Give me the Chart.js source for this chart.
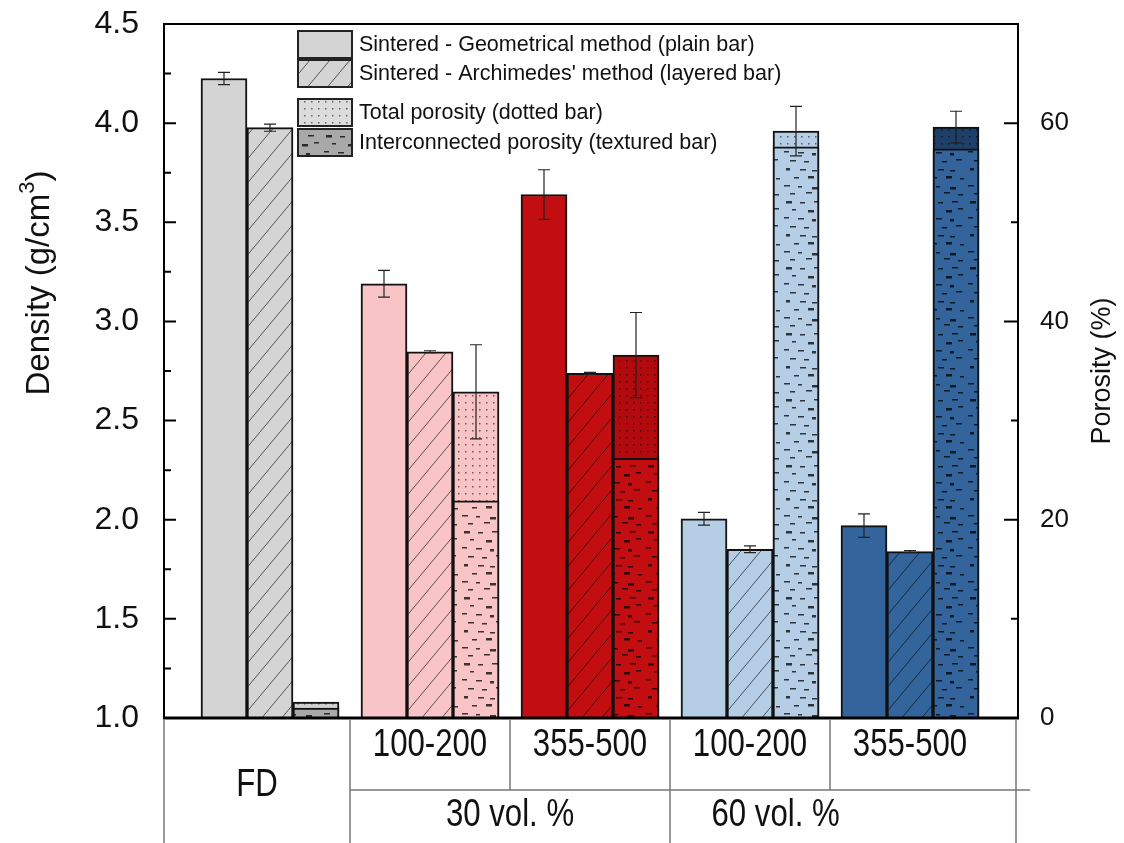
<!DOCTYPE html>
<html>
<head>
<meta charset="utf-8">
<script src="https://cdn.jsdelivr.net/npm/chart.js@4.4.0/dist/chart.umd.min.js"></script>
<style>
  html, body { margin: 0; padding: 0; background: #fff; }
  #wrap { width: 1124px; height: 843px; }
</style>
</head>
<body>
<div id="wrap"><canvas id="c" width="1124" height="843"></canvas></div>
<script>
// groups along the x axis (FD, then 30 vol.% and 60 vol.% powders)
const groups = ['FD', '100-200', '355-500', '100-200', '355-500'];
const groupPos = [1, 2, 3, 4, 5];
const volLabels = ['30 vol. %', '60 vol. %'];
const volPos = [2.5, 4.16];

// density (g/cm3), left axis
const geoDensity = [4.225, 3.19, 3.64, 2.005, 1.97];
const geoErr = [0.031, 0.067, 0.125, 0.032, 0.059];
const archDensity = [3.977, 2.847, 2.738, 1.851, 1.839];
const archErr = [0.018, 0.005, 0.005, 0.017, 0.005];

// porosity (%), right axis
const totalPorosity = [1.6, 32.9, 36.6, 59.2, 59.6];
const totalErr = [0, 4.75, 4.3, 2.5, 1.6];
const interPorosity = [1.0, 21.9, 26.2, 57.6, 57.4];

const baseColors = ['#d4d4d4', '#f8c4c5', '#c20e10', '#b5cde5', '#33649b'];
const totalColors = ['#d0d0d0', '#f8c4c5', '#b30b0d', '#b5cde5', '#1e3f68'];
const interColors = ['#a9a9a9', '#f8c4c5', '#c20e10', '#b5cde5', '#33649b'];

function tile(w, h, bg, draw) {
    const c = document.createElement('canvas');
    c.width = w; c.height = h;
    const g = c.getContext('2d');
    g.fillStyle = bg;
    g.fillRect(0, 0, w, h);
    draw(g);
    return g.createPattern(c, 'repeat');
}
function hatch(bg) {
    return tile(20, 24, bg, g => {
        g.strokeStyle = 'rgba(0,0,0,0.6)';
        g.lineWidth = 1;
        g.beginPath();
        g.moveTo(-2, 26.4); g.lineTo(22, -2.4);
        g.stroke();
    });
}
function dots(bg) {
    return tile(7, 7, bg, g => {
        g.fillStyle = 'rgba(0,0,0,0.55)';
        g.fillRect(3, 3, 1.5, 1.5);
    });
}
// fixed dash layout for the "textured" bars
const dashSpots = [[4,3,6],[18,4,5],[32,3,6],[10,11,4],[26,12,6],[38,10,5],[2,19,5],[16,20,6],[30,21,4],
    [8,28,6],[22,29,5],[36,27,6],[4,36,4],[18,37,6],[30,38,5],[12,45,5],[26,44,6],[40,46,4],
    [2,53,6],[16,54,4],[30,55,6],[8,61,5],[24,60,6],[38,62,5]];
function dashes(bg) {
    return tile(46, 66, bg, g => {
        g.fillStyle = 'rgba(0,0,0,0.75)';
        dashSpots.forEach((d, i) => g.fillRect(d[0], d[1], d[2], i % 4 === 0 ? 2.5 : 1.5));
    });
}

const pts = vals => groupPos.map((x, i) => ({ x: x, y: vals[i] }));

const framePlugin = {
    id: 'frame',
    afterDatasetsDraw(chart) {
        const ctx = chart.ctx;
        ctx.save();
        ctx.strokeStyle = '#222';
        ctx.lineWidth = 1.2;
        chart.data.datasets.forEach((ds, di) => {
            if (!ds.err) return;
            const meta = chart.getDatasetMeta(di);
            const sc = chart.scales[ds.yAxisID];
            meta.data.forEach((el, i) => {
                const e = ds.err[i];
                if (!e) return;
                const v = ds.data[i].y;
                const yt = sc.getPixelForValue(v + e), yb = sc.getPixelForValue(v - e);
                ctx.beginPath();
                ctx.moveTo(el.x, yt); ctx.lineTo(el.x, yb);
                ctx.moveTo(el.x - 6, yt); ctx.lineTo(el.x + 6, yt);
                ctx.moveTo(el.x - 6, yb); ctx.lineTo(el.x + 6, yb);
                ctx.stroke();
            });
        });
        ctx.restore();
    },
    afterDraw(chart) {
        const ctx = chart.ctx;
        const a = chart.chartArea;
        const xs = chart.scales.x, yl = chart.scales.y, yr = chart.scales.yP;
        ctx.save();

        // plot frame
        ctx.strokeStyle = '#000';
        ctx.lineWidth = 2;
        ctx.strokeRect(a.left, a.top, a.right - a.left, a.bottom - a.top);
        ctx.lineWidth = 3;
        ctx.beginPath(); ctx.moveTo(a.left - 1, a.bottom); ctx.lineTo(a.right + 1, a.bottom); ctx.stroke();

        // inward ticks
        ctx.lineWidth = 2;
        ctx.beginPath();
        yl.ticks.forEach(t => {
            const y = yl.getPixelForValue(t.value);
            ctx.moveTo(a.left, y); ctx.lineTo(a.left + 12, y);
            if (t.value + 0.25 < yl.max) {
                const ym = yl.getPixelForValue(t.value + 0.25);
                ctx.moveTo(a.left, ym); ctx.lineTo(a.left + 7, ym);
            }
        });
        yr.ticks.forEach(t => {
            const y = yr.getPixelForValue(t.value);
            ctx.moveTo(a.right, y); ctx.lineTo(a.right - 14, y);
            if (t.value + 10 < yr.max) {
                const ym = yr.getPixelForValue(t.value + 10);
                ctx.moveTo(a.right, ym); ctx.lineTo(a.right - 7, ym);
            }
        });
        ctx.stroke();

        // axis titles
        ctx.fillStyle = '#111';
        ctx.textBaseline = 'middle';
        ctx.save();
        ctx.translate(40, a.top + 259);
        ctx.rotate(-Math.PI / 2);
        const t1 = 'Density (g/cm', t3 = ')';
        ctx.font = '22px "Liberation Sans", Arial, sans-serif';
        const wSup = ctx.measureText('3').width;
        ctx.font = '33px "Liberation Sans", Arial, sans-serif';
        const w1 = ctx.measureText(t1).width, w3 = ctx.measureText(t3).width;
        let x0 = -(w1 + wSup + w3) / 2;
        ctx.textAlign = 'left';
        ctx.fillText(t1, x0, 0);
        ctx.font = '22px "Liberation Sans", Arial, sans-serif';
        ctx.fillText('3', x0 + w1, -12);
        ctx.font = '33px "Liberation Sans", Arial, sans-serif';
        ctx.fillText(t3, x0 + w1 + wSup, 0);
        ctx.restore();

        ctx.save();
        ctx.translate(1103, (a.top + a.bottom) / 2);
        ctx.rotate(-Math.PI / 2);
        ctx.font = '27px "Liberation Sans", Arial, sans-serif';
        ctx.textAlign = 'center';
        ctx.fillText('Porosity (%)', 0, 0);
        ctx.restore();

        // category table under the axis
        const H = chart.height;
        const rowLine = a.bottom + 72;
        ctx.strokeStyle = '#777';
        ctx.lineWidth = 1.5;
        ctx.beginPath();
        const vline = (x, y2) => { ctx.moveTo(x, a.bottom + 1); ctx.lineTo(x, y2); };
        vline(a.left, H);
        vline(xs.getPixelForValue(1.5), H);
        vline(xs.getPixelForValue(2.5), rowLine);
        vline(xs.getPixelForValue(3.5), H);
        vline(xs.getPixelForValue(4.5), rowLine);
        vline(a.right - 2, H);
        ctx.moveTo(xs.getPixelForValue(1.5), rowLine); ctx.lineTo(a.right + 12, rowLine);
        ctx.stroke();

        ctx.fillStyle = '#111';
        ctx.textAlign = 'center';
        ctx.textBaseline = 'middle';
        ctx.font = '38px "Liberation Sans", Arial, sans-serif';
        const narrow = (txt, x, y) => {
            ctx.save(); ctx.translate(x, y); ctx.scale(0.82, 1); ctx.fillText(txt, 0, 0); ctx.restore();
        };
        groups.forEach((g, i) => {
            if (i === 0) narrow(g, (a.left + xs.getPixelForValue(1.5)) / 2, a.bottom + 68);
            else narrow(g, xs.getPixelForValue(groupPos[i]), a.bottom + 28);
        });
        volLabels.forEach((v, i) => narrow(v, xs.getPixelForValue(volPos[i]), a.bottom + 98));

        // legend inside the plot
        const lx = a.left + 134;
        const rows = [[7, '#d4d4d4'], [36, hatch('#d4d4d4')], [75, dots('#dcdcdc')], [105, dashes('#a9a9a9')]];
        const names = [chart.data.datasets[0].label, chart.data.datasets[1].label,
            chart.data.datasets[3].label, chart.data.datasets[2].label];
        ctx.font = '21.5px "Liberation Sans", Arial, sans-serif';
        ctx.textAlign = 'left';
        rows.forEach((r, i) => {
            const y = a.top + r[0];
            ctx.fillStyle = r[1];
            ctx.fillRect(lx, y, 54, 27);
            ctx.strokeStyle = '#222';
            ctx.lineWidth = 2;
            ctx.strokeRect(lx, y, 54, 27);
            ctx.fillStyle = '#111';
            ctx.fillText(names[i], lx + 61, y + 14);
        });
        ctx.restore();
    }
};

const ctx = document.getElementById('c').getContext('2d');
const chart = new Chart(ctx, {
    type: 'bar',
    data: {
        datasets: [
            {
                label: 'Sintered - Geometrical method (plain bar)',
                data: pts(geoDensity), err: geoErr,
                yAxisID: 'y', stack: 'geo',
                backgroundColor: baseColors
            },
            {
                label: "Sintered - Archimedes' method (layered bar)",
                data: pts(archDensity), err: archErr,
                yAxisID: 'y', stack: 'arch',
                backgroundColor: baseColors.map(hatch)
            },
            {
                label: 'Interconnected porosity (textured bar)',
                data: pts(interPorosity),
                yAxisID: 'yP', stack: 'por',
                backgroundColor: interColors.map(dashes)
            },
            {
                label: 'Total porosity (dotted bar)',
                data: pts(totalPorosity), err: totalErr,
                yAxisID: 'yP', stack: 'por',
                backgroundColor: totalColors.map(dots)
            }
        ]
    },
    options: {
        responsive: false,
        animation: false,
        layout: { padding: { top: 24, bottom: 125, left: 0, right: 0 } },
        datasets: {
            bar: { barThickness: 46, borderColor: '#111', borderWidth: 2, borderSkipped: 'start' }
        },
        plugins: { legend: { display: false }, tooltip: { enabled: false } },
        scales: {
            x: { type: 'linear', min: 0.3375, max: 5.675, offset: false, display: false },
            y: {
                position: 'left', min: 1, max: 4.5, stacked: false,
                grid: { display: false }, border: { display: false },
                ticks: {
                    stepSize: 0.5, padding: 17, color: '#111',
                    font: { family: 'Liberation Sans', size: 32 },
                    callback: v => v.toFixed(1)
                },
                afterFit: s => { s.width = 164; s.paddingTop = 0; s.paddingBottom = 0; }
            },
            yP: {
                position: 'right', min: 0, max: 70, stacked: false,
                grid: { display: false }, border: { display: false },
                ticks: {
                    stepSize: 20, includeBounds: false, padding: 14, color: '#111',
                    font: { family: 'Liberation Sans', size: 26 }
                },
                afterFit: s => { s.width = 106; s.paddingTop = 0; s.paddingBottom = 0; }
            }
        }
    },
    plugins: [framePlugin]
});
</script>
</body>
</html>
